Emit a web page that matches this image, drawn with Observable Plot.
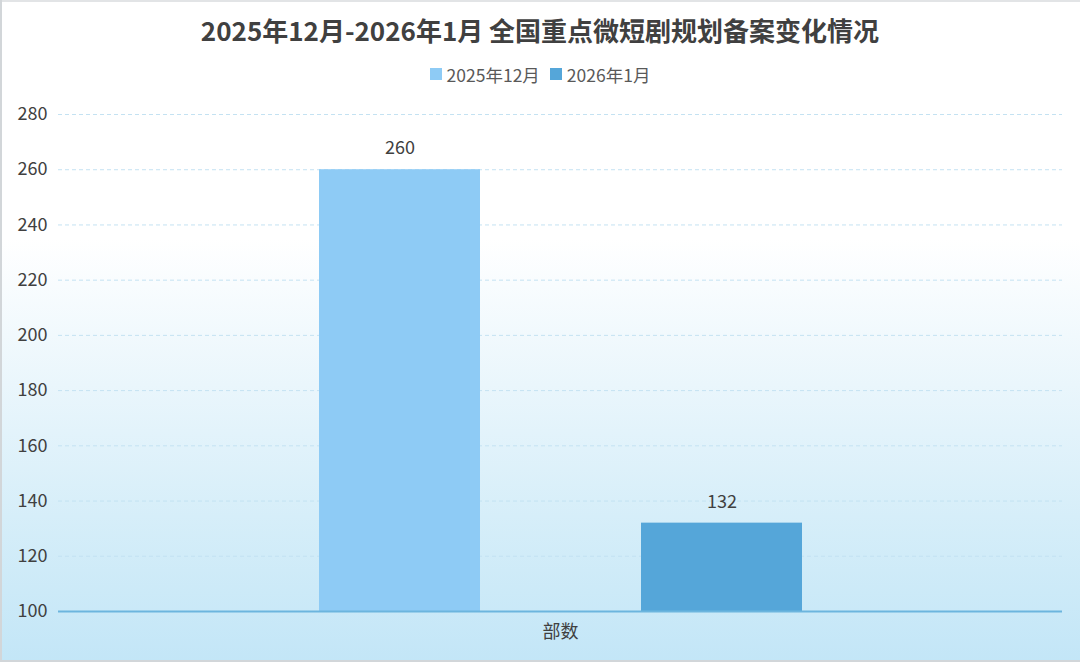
<!DOCTYPE html>
<html>
<head>
<meta charset="utf-8">
<script src="https://cdn.jsdelivr.net/npm/d3@7"></script>
<script src="https://cdn.jsdelivr.net/npm/@observablehq/plot@0.6"></script>
<style>
  html, body { margin: 0; padding: 0; }
  body { width: 1080px; height: 662px; overflow: hidden; }
  #card {
    position: relative; width: 1080px; height: 662px; box-sizing: border-box;
    background: linear-gradient(to bottom, #ffffff 0%, #ffffff 36%, #eaf6fc 58%, #d6eef9 78%, #c3e6f7 100%);
    box-shadow: inset 2px -2px 0 #d2d6d9, inset 0 2px 0 #e2e4e6;
    font-family: "Noto Sans CJK SC", "Noto Sans", sans-serif;
  }
  #title {
    height: 60px; line-height: 60px; text-align: center;
    font-size: 26px; font-weight: bold; color: #404040;
  }
  #legend {
    height: 28px; display: flex; justify-content: center; align-items: center;
    font-size: 17.5px; color: #595959; gap: 10px;
  }
  #legend .item { display: flex; align-items: center; gap: 5px; }
  #legend .sw { width: 12px; height: 12px; display: inline-block; }
  #chart svg { display: block; }
</style>
</head>
<body>
<div id="card">
  <div id="title"></div>
  <div id="legend"></div>
  <div id="chart"></div>
</div>
<script>
const titleText = "2025年12月-2026年1月 全国重点微短剧规划备案变化情况";
const categories = ["部数"];
const series = ["2025年12月", "2026年1月"];
const values = [260, 132];
const colors = ["#8ecbf5", "#55a6d9"];
const yTicks = [100, 120, 140, 160, 180, 200, 220, 240, 260, 280];
const yMin = 100, yMax = 280;

document.getElementById("title").textContent = titleText;
const legend = document.getElementById("legend");
series.forEach((s, i) => {
  const it = document.createElement("span");
  it.className = "item";
  it.innerHTML = `<span class="sw" style="background:${colors[i]}"></span><span>${s}</span>`;
  legend.appendChild(it);
});

const data = series.map((s, i) => ({cat: categories[0], series: s, value: values[i]}));

const chart = Plot.plot({
  width: 1080,
  height: 574,
  marginTop: 26,
  marginBottom: 51,
  marginLeft: 58,
  marginRight: 18,
  style: {background: "transparent", fontFamily: "'Noto Sans CJK SC', 'Noto Sans', sans-serif", fontSize: "18px", color: "#404040"},
  fx: {domain: categories, padding: 0, label: null},
  x: {domain: series, paddingInner: 0.5, paddingOuter: 0.805, axis: null},
  y: {domain: [yMin, yMax], label: null},
  color: {domain: series, range: colors},
  marks: [
    Plot.gridY(yTicks.filter(d => d > yMin), {stroke: "#c4e2f2", strokeOpacity: 1, strokeDasharray: "4,3"}),
    Plot.axisY({ticks: yTicks, tickSize: 0, tickPadding: 11, label: null, fontSize: 18}),
    Plot.axisFx({anchor: "bottom", tickSize: 0, tickPadding: 14, label: null, fontSize: 18}),
    Plot.barY(data, {fx: "cat", x: "series", y1: yMin, y2: "value", fill: "series"}),
    Plot.ruleY([yMin], {stroke: "#6cb5de", strokeWidth: 2}),
    Plot.text(data, {fx: "cat", x: "series", y: "value", text: d => String(d.value), dy: -21, fontSize: 18, fill: "#404040"})
  ]
});
document.getElementById("chart").appendChild(chart);
</script>
</body>
</html>
